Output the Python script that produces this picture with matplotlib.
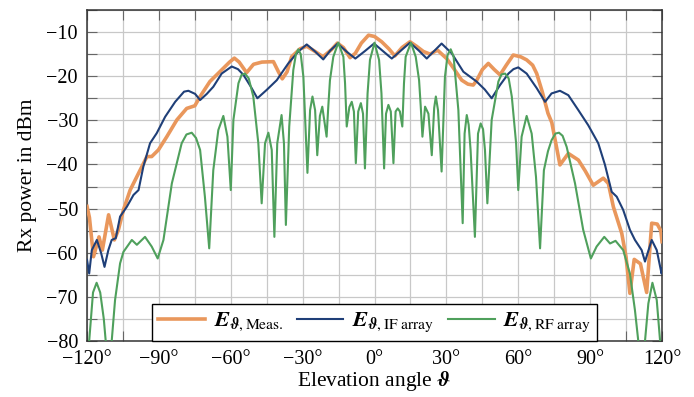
import matplotlib
matplotlib.use("Agg")
import matplotlib.pyplot as plt
from matplotlib.ticker import MultipleLocator, FuncFormatter

# angle in degrees, power in dBm
meas_angle = [-120, -119, -117.3, -115, -113.6, -111, -108.6, -106.9, -104.8, -102,
              -98.5, -95, -93, -90.2, -86.7, -82.5, -78.4, -75, -72.8, -68.7,
              -63.1, -60.5, -58.5, -56.5, -53.4, -50.5, -47, -42.2, -40.1, -38.5,
              -36.5, -34.6, -31.1, -28.3, -24.8, -21.5, -18, -15.5, -13, -10.2,
              -8, -5.5, -2.5, 0, 3, 6, 8.5, 11.5, 14.8, 17.5,
              20.4, 23.2, 26.3, 30.1, 33, 36.4, 39, 41.2, 42.6, 45,
              47.5, 50, 52.4, 55, 57.9, 61, 63.5, 66, 67.7, 70,
              72.4, 74, 77.4, 80.9, 85.1, 88, 91.3, 95.5, 97.6, 99.7,
              103.2, 105, 106.6, 108.4, 111, 113.6, 115.7, 118, 119.5, 120]
meas_db = [-49.5, -52, -60.9, -56.4, -59.4, -51.4, -57.1, -54.8, -50.3, -45.8,
           -42.0, -38.2, -38.2, -36.7, -33.7, -29.9, -27.3, -26.7, -24.6, -21.2,
           -18.2, -16.8, -15.9, -16.8, -19.2, -17.3, -16.8, -16.7, -19.0, -20.6,
           -19.0, -15.6, -13.8, -13.2, -14.4, -15.6, -14.0, -12.5, -13.5, -15.8,
           -14.8, -12.5, -10.7, -11.0, -12.2, -13.8, -15.4, -13.5, -12.2, -13.2,
           -14.4, -15.0, -14.1, -16.0, -18.2, -20.9, -21.8, -22.0, -21.0, -18.5,
           -17.1, -18.5, -19.7, -17.5, -15.2, -15.6, -16.3, -17.5, -19.4, -23.5,
           -28.4, -30.5, -40.1, -37.5, -39.0, -41.5, -44.7, -43.1, -44.3, -49.6,
           -55.6, -61, -69.2, -61.5, -62.5, -69.0, -53.3, -53.5, -55, -57.5]

if_angle = [-120, -119.1, -118, -115.9, -114.1, -112.7, -111.1, -109.7, -108, -106.2,
            -103.4, -100.6, -98.5, -96.5, -93.7, -90.9, -87.4, -83.2, -79.5, -77.7,
            -74.9, -72.8, -70, -67.3, -63.8, -59.6, -57, -54.7, -51.5, -48.9,
            -45.0, -40.8, -36.0, -31.8, -28.3, -24.8, -21.4, -18.5, -15.4, -11.5,
            -8.0, -4, -0.2, 3.5, 7.2, 11, 14.8, 18.5, 21.8, 24.5,
            28.0, 32.2, 37.1, 42.6, 46, 48.9, 52.4, 55.9, 58, 60.0,
            63.5, 67.7, 71.2, 73.9, 77.4, 80.9, 85.1, 89.2, 93.4, 96.2,
            99.0, 101.1, 103.8, 106.6, 108.7, 111.5, 112.9, 115.7, 117.8, 119.8, 120]
if_db = [-61.6, -64.7, -59.4, -57.1, -60.1, -63.2, -59.4, -57.1, -56.7, -51.8,
         -49.6, -46.9, -45.8, -40.5, -35.2, -32.9, -29.2, -25.8, -23.5, -23.3,
         -24.0, -25.4, -24.0, -22.4, -19.4, -17.8, -18.4, -19.7, -22.5, -25.0,
         -23.1, -20.9, -17.1, -14.4, -12.8, -14.4, -16.2, -14.2, -12.6, -14.5,
         -16.0, -14.3, -12.6, -14.3, -16.0, -14.2, -12.4, -14.2, -16.0, -14.5,
         -12.6, -14.8, -19.0, -21.2, -23.0, -25.0, -22.0, -19.4, -18.4, -18.0,
         -19.4, -22.7, -25.8, -23.9, -23.3, -24.3, -27.7, -31.1, -35.2, -40.1,
         -46.2, -47.3, -50.3, -54.8, -57.1, -59.4, -62.0, -57.1, -59.4, -64.7, -63.5]

rf_angle = [-120, -119.1, -117.5, -116, -114.5, -113, -112.2, -111, -109.7, -108.3,
            -106.2, -104.8, -101.3, -99.2, -95.8, -93, -90.5, -88.1, -84.6, -80.5,
            -78.5, -76.3, -74.5, -72.8, -70.8, -69.0, -67.3, -65.2, -63.1, -61.4,
            -60.0, -58.9, -56.8, -55.5, -54.1, -52.5, -50.6, -48.5, -47.1, -45.7,
            -44.3, -42.9, -41.8, -40.6, -38.8, -37.8, -37.0, -35.6, -33.9, -32.8,
            -31.8, -30.8, -29.7, -28.0, -26.9, -25.9, -24.8, -23.9, -22.8, -21.8,
            -20.0, -19.3, -18.6, -17.2, -15.1, -13.0, -12.3, -11.6, -10.5, -9.5,
            -8.6, -7.8, -6.8, -5.7, -4.8, -4.0, -2.9, -1.9, 0.0, 1.9,
            2.9, 4.0, 4.8, 5.8, 6.8, 7.9, 8.8, 9.7, 10.6, 11.6,
            12.3, 13.0, 15.2, 17.2, 18.6, 19.3, 20.0, 21.1, 22.5, 23.9,
            24.9, 25.6, 26.5, 28.0, 29.4, 30.5, 31.8, 33, 35.0, 36.8,
            37.6, 38.5, 39.3, 40.1, 41.9, 43.2, 44.3, 45.3, 46.1, 47.1,
            48.9, 51.7, 53, 54.5, 56, 57.3, 59.1, 60.0, 61.4, 63.5,
            65.6, 67.4, 69.1, 70.7, 72.4, 73.9, 75.5, 77.0, 78.5, 80.2,
            83.7, 87.1, 90.3, 92.7, 95.9, 98.3, 100.6, 103.8, 106.6, 108.7,
            110.1, 111.5, 112.9, 114.3, 116.0, 117.8, 119.2, 120]
rf_db = [-85, -80, -69, -66.8, -69, -75, -80, -90, -80, -70.7,
         -62.4, -59.8, -57.1, -58.2, -56.4, -58.6, -61.3, -57.1, -44.3, -35.2,
         -33.2, -32.8, -34.0, -36.7, -47.3, -59.0, -41.3, -32.2, -29.0, -33.7,
         -45.8, -29.9, -21.6, -19.7, -19.4, -20.5, -24.6, -35.2, -48.8, -35.2,
         -32.8, -36.7, -56.4, -35.2, -28.8, -35.2, -53.7, -31.4, -18.6, -15.0,
         -13.9, -15.0, -20.1, -41.9, -27.7, -24.6, -27.7, -37.9, -29.0, -26.9,
         -33.7, -26.9, -20.9, -15.6, -12.4, -15.6, -21.6, -31.4, -27.0, -25.8,
         -28.0, -39.7, -28.0, -26.1, -28.5, -40.9, -23.9, -16.3, -12.4, -16.3,
         -23.9, -40.9, -28.5, -26.5, -28.0, -39.7, -28.0, -27.3, -28.0, -31.4,
         -21.6, -15.6, -12.4, -15.6, -20.9, -26.9, -33.7, -26.9, -28.5, -37.9,
         -27.2, -24.6, -27.7, -41.6, -20.1, -15.2, -13.9, -15.5, -27.7, -53.3,
         -33.0, -28.8, -31.0, -36.7, -56.4, -33.0, -30.7, -32.0, -36.7, -48.8,
         -29.9, -21.2, -19.6, -19.4, -20.5, -24.6, -35.2, -45.8, -33.7, -29.0,
         -33.0, -42.8, -59.0, -41.3, -37.0, -34.5, -33.0, -32.8, -33.5, -36.0,
         -44.3, -54.8, -61.3, -58.6, -56.4, -57.9, -57.3, -59.4, -64.7, -73.0,
         -80, -90, -80, -71.5, -66.8, -70.7, -80, -85]

labels = [r"$\mathbfit{E}_{\mathbfit{\vartheta},\mathrm{Meas.}}$",
          r"$\mathbfit{E}_{\mathbfit{\vartheta},\mathrm{IF}\ \mathrm{array}}$",
          r"$\mathbfit{E}_{\mathbfit{\vartheta},\mathrm{RF}\ \mathrm{array}}$"]

ORANGE = "#E9975C"
BLUE = "#1F3F78"
GREEN = "#4FA05C"


def main():
    plt.rcParams["font.family"] = ["Liberation Serif", "DejaVu Serif"]
    plt.rcParams["mathtext.fontset"] = "stix"
    plt.rcParams["font.size"] = 14

    fig = plt.figure(figsize=(6.94, 3.97), dpi=100)
    ax = fig.add_axes([0.1254, 0.141, 0.8285, 0.8338])

    ax.plot(meas_angle, meas_db, color=ORANGE, lw=2.6, label=labels[0], zorder=3)
    ax.plot(if_angle, if_db, color=BLUE, lw=1.5, label=labels[1], zorder=4)
    ax.plot(rf_angle, rf_db, color=GREEN, lw=1.5, label=labels[2], zorder=5)

    ax.set_xlim(-120, 120)
    ax.set_ylim(-80, -5)
    ax.xaxis.set_major_locator(MultipleLocator(30))
    ax.xaxis.set_minor_locator(MultipleLocator(15))
    ax.yaxis.set_major_locator(MultipleLocator(10))
    ax.yaxis.set_minor_locator(MultipleLocator(5))
    ax.xaxis.set_major_formatter(FuncFormatter(lambda v, p: f"{v:.0f}°".replace("-", "\u2212")))
    ax.yaxis.set_major_formatter(FuncFormatter(lambda v, p: f"{v:.0f}".replace("-", "\u2212")))
    ax.grid(which="both", color="#c8c8c8", lw=0.9, zorder=0)
    ax.tick_params(which="both", direction="in", top=True, right=True,
                   length=7, width=0.8, color="#666666", labelsize=14.5)
    ax.tick_params(axis="x", pad=6.5)
    ax.tick_params(axis="y", pad=6.5)
    for s in ax.spines.values():
        s.set_linewidth(1.1)
        s.set_color("#333333")

    ax.set_xlabel(r"Elevation angle $\mathbfit{\vartheta}$", fontsize=15.5, labelpad=0)
    ax.set_ylabel("Rx power in dBm", fontsize=15.5, labelpad=7)

    leg = ax.legend(loc="lower center", bbox_to_anchor=(0.5, 0.0), ncol=3,
                    fontsize=16, frameon=True, fancybox=False, framealpha=1,
                    edgecolor="black", borderaxespad=0, handlelength=2.1,
                    columnspacing=0.6, handletextpad=0.4, borderpad=0.3)
    leg.get_frame().set_linewidth(1.0)
    leg.set_zorder(10)

    fig.savefig("out.png", dpi=100)
    plt.close(fig)


if __name__ == "__main__":
    main()
